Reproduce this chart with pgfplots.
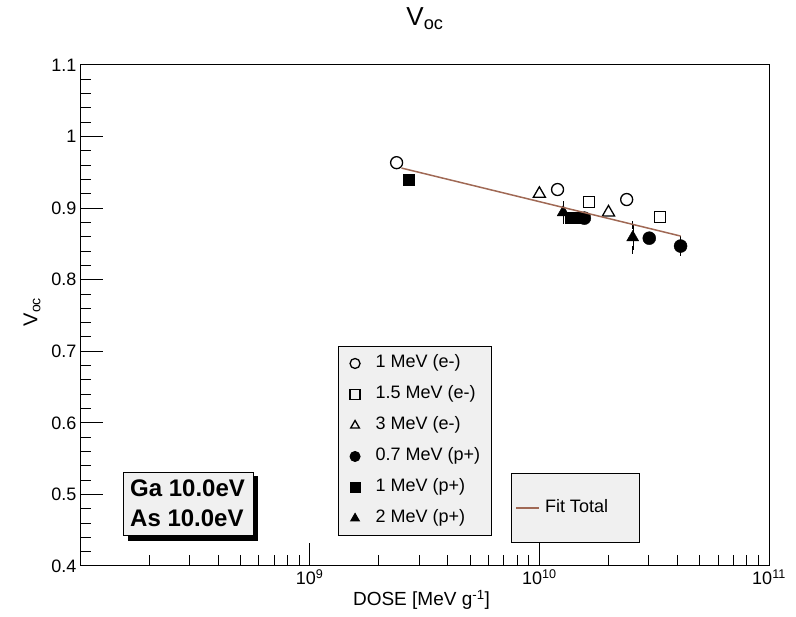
\documentclass[border=0pt]{standalone}
\usepackage{pgfplots}
\pgfplotsset{compat=1.18}
\usepackage{fontspec}
\setmainfont{Liberation Sans}
\definecolor{fitc}{RGB}{160,105,85}
\definecolor{boxgray}{RGB}{240,240,240}

\begin{document}
\begin{tikzpicture}[x=1pt,y=1pt]
\useasboundingbox (0,0) rectangle (796,617);

\begin{axis}[
  at={(80pt,51pt)}, anchor=south west,
  scale only axis, width=689pt, height=501pt,
  xmode=log, xmin=1e8, xmax=1e11, ymin=0.4, ymax=1.1,
  xtick={1e9,1e10,1e11},
  xticklabels={10\textsuperscript{9},10\textsuperscript{10},10\textsuperscript{11}},
  minor xtick={2e8,3e8,4e8,5e8,6e8,7e8,8e8,9e8,
               2e9,3e9,4e9,5e9,6e9,7e9,8e9,9e9,
               2e10,3e10,4e10,5e10,6e10,7e10,8e10,9e10},
  ytick={0.4,0.5,0.6,0.7,0.8,0.9,1,1.1},
  minor y tick num=4,
  tick pos=left, tick align=inside,
  major tick length=23pt, minor tick length=11pt,
  every tick/.style={black, line width=1pt},
  axis line style={line width=1pt},
  /pgf/number format/assume math mode=true,
  ticklabel style={font=\fontsize{18}{18}\selectfont},
  title={V\textsubscript{oc}},
  title style={at={(rel axis cs:0.5007,1)}, anchor=base, yshift=33pt,
    font=\fontsize{26}{26}\selectfont},
  xlabel={DOSE [MeV g\textsuperscript{-1}]},
  xlabel style={at={(rel axis cs:0.4956,0)}, anchor=base, yshift=-40pt,
    font=\fontsize{19}{19}\selectfont},
  ylabel={V\textsubscript{oc}},
  ylabel style={at={(rel axis cs:0,0.507)}, anchor=center, yshift=48pt,
    font=\fontsize{20}{20}\selectfont},
  legend style={at={(rel axis cs:0.3745,0.0599)}, anchor=south west,
    fill=boxgray, draw=black, line width=1pt,
    inner xsep=11.5pt, inner ysep=8.5pt, row sep=14pt,
    font=\fontsize{18}{21}\selectfont,
    nodes={inner sep=0pt, text height=13pt, text depth=4pt},
    /tikz/every odd column/.append style={column sep=15.5pt}},
  legend image post style={mark size=5pt},
  legend cell align=left,
]
% 1 MeV (e-)
\addplot[only marks, mark=o, mark size=6pt, black, line width=1.3pt]
  coordinates {(2.39e9,0.9635) (1.2e10,0.926) (2.4e10,0.912)};
\addlegendentry{1 MeV (e-)}
% 1.5 MeV (e-)
\addplot[only marks, mark=square, mark size=5.5pt, black, line width=1.3pt]
  coordinates {(1.65e10,0.909) (3.35e10,0.888)};
\addlegendentry{1.5 MeV (e-)}
% 3 MeV (e-)
\addplot[only marks, mark=triangle, mark size=7pt, black, line width=1.3pt]
  coordinates {(1.0e10,0.920) (2.0e10,0.894)};
\addlegendentry{3 MeV (e-)}
% 0.7 MeV (p+)
\addplot[only marks, mark=*, mark size=6.5pt, black,
  error bars/.cd, y dir=both, y explicit,
  error mark options={black, mark size=4pt, line width=1pt}]
  coordinates {(1.57e10,0.886) (3.01e10,0.858) (4.12e10,0.847) +- (0,0.008)};
\addlegendentry{0.7 MeV (p+)}
% 1 MeV (p+)
\addplot[only marks, mark=square*, mark size=5.5pt, black]
  coordinates {(2.71e9,0.940) (1.37e10,0.886) (1.43e10,0.886)};
\addlegendentry{1 MeV (p+)}
% 2 MeV (p+)
\addplot[only marks, mark=triangle*, mark size=7pt, black,
  error bars/.cd, y dir=both, y explicit,
  error mark options={black, mark size=4pt, line width=1pt}]
  coordinates {(1.27e10,0.894) +- (0,0.010) (2.55e10,0.859) +- (0,0.017)};
\addlegendentry{2 MeV (p+)}
\end{axis}

\begin{axis}[
  at={(80pt,51pt)}, anchor=south west,
  scale only axis, width=689pt, height=501pt,
  xmode=log, xmin=1e8, xmax=1e11, ymin=0.4, ymax=1.1,
  hide axis,
  legend style={at={(rel axis cs:0.6255,0.0459)}, anchor=south west,
    fill=boxgray, draw=black, line width=1pt,
    inner xsep=4pt, inner ysep=26pt,
    font=\fontsize{18}{21}\selectfont,
    nodes={inner sep=0pt, text height=13pt, text depth=4pt},
    /tikz/every odd column/.append style={column sep=5pt}},
  legend cell align=left,
  legend image code/.code={\draw[#1] (0pt,0pt) -- (23pt,0pt);},
]
\addplot[fitc, line width=1.5pt] coordinates {(2.51e9,0.956) (4.12e10,0.861)};
\addlegendentry{Fit Total\rule{27pt}{0pt}}
\end{axis}

% Ga / As annotation box with shadow
\fill[black] (128,76) rectangle (258,141);
\filldraw[fill=boxgray, draw=black, line width=1pt] (123,81) rectangle (253,144);
\node[anchor=base west, inner sep=0pt, font=\bfseries\fontsize{24}{24}\selectfont] at (130,120) {Ga 10.0eV};
\node[anchor=base west, inner sep=0pt, font=\bfseries\fontsize{24}{24}\selectfont] at (130,90) {As 10.0eV};
\end{tikzpicture}
\end{document}
